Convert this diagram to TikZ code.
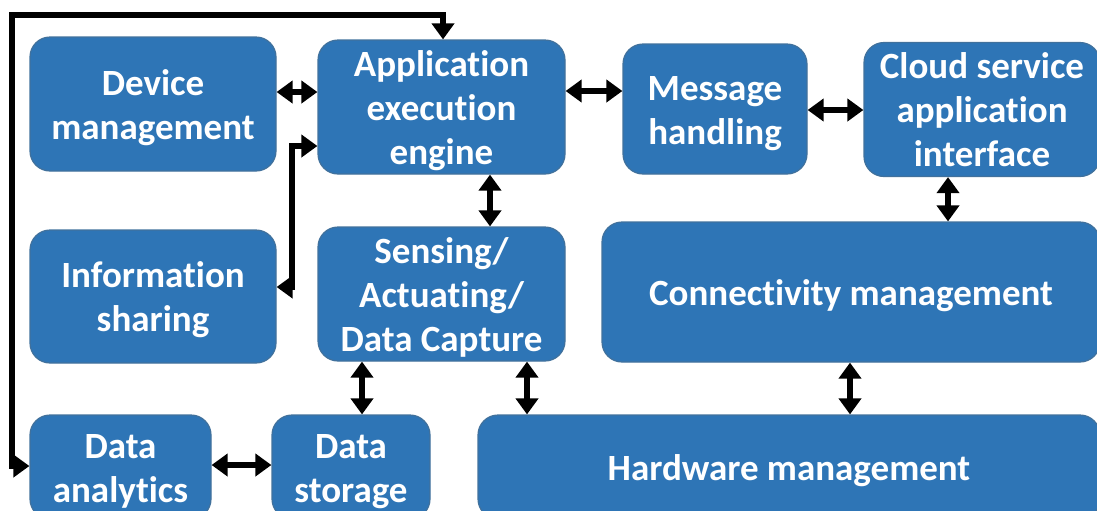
\documentclass[tikz,border=0pt]{standalone}
\usepackage{fontspec}
\setmainfont{Carlito}[Ligatures=NoCommon]
\usetikzlibrary{arrows.meta}

\definecolor{boxblue}{HTML}{2E75B6}
\definecolor{boxline}{HTML}{41719C}

% struts for the first and last line of a box text
\newcommand\topstrut{\rule{0pt}{18pt}}
\newcommand\botstrut{\rule[-5pt]{0pt}{0pt}}

\tikzset{
  block/.style={draw=boxline, line width=0.6pt, fill=boxblue, rounded corners=10pt,
    text=white, font=\bfseries\fontsize{18.5}{22}\selectfont, align=center, inner sep=0pt},
  link/.style={line width=3pt, {Triangle[width=11pt,length=8pt]}-{Triangle[width=11pt,length=8pt]}}
}

\begin{document}
\begin{tikzpicture}[x=0.5pt, y=-0.5pt]
  \useasboundingbox (0,0) rectangle (1097,510);

  \node[block, minimum width=123pt, minimum height=67pt] (dev) at (153,104) {\topstrut Device\\management\botstrut};
  \node[block, minimum width=123.5pt, minimum height=67pt] (app) at (441.5,107) {\topstrut Application\\execution\\engine\botstrut};
  \node[block, minimum width=92pt, minimum height=65pt] (msg) at (715,109) {\topstrut Message\\handling\botstrut};
  \node[block, minimum width=118pt, minimum height=65.5pt] (cloud) at (982,109.5) {\topstrut Cloud service\\application\\interface\botstrut};
  \node[block, minimum width=123pt, minimum height=66.5pt] (info) at (153,296.5) {\topstrut Information\\sharing\botstrut};
  \node[block, minimum width=123.5pt, minimum height=67pt] (sense) at (441.5,294) {\topstrut Sensing/\\Actuating/\\Data Capture\botstrut};
  \node[block, minimum width=249pt, minimum height=70pt] (conn) at (851,292) {\topstrut Connectivity management\botstrut};
  \node[block, minimum width=90.5pt, minimum height=52pt] (ana) at (120.5,467) {\topstrut Data\\analytics\botstrut};
  \node[block, minimum width=79pt, minimum height=52pt] (store) at (351,467) {\topstrut Data\\storage\botstrut};
  \node[block, minimum width=311pt, minimum height=52pt] (hw) at (789,467) {\topstrut Hardware management\botstrut};

  \draw[link] (dev.east |- 0,92) -- (app.west |- 0,92);
  \draw[link] (app.east |- 0,91) -- (msg.west |- 0,91);
  \draw[link] (msg.east |- 0,110) -- (cloud.west |- 0,110);
  \draw[link] (info.east |- 0,287) -- (292,287) -- (292,146) -- (app.west |- 0,146);
  \draw[link] (app.south -| 490,0) -- (sense.north -| 490,0);
  \draw[link] (cloud.south -| 948,0) -- (conn.north -| 948,0);
  \draw[link] (sense.south -| 362,0) -- (store.north -| 362,0);
  \draw[link] (sense.south -| 527,0) -- (hw.north -| 527,0);
  \draw[link] (conn.south -| 850,0) -- (hw.north -| 850,0);
  \draw[link] (ana.east |- 0,465) -- (store.west |- 0,465);
  \draw[link] (ana.west |- 0,466) -- (12,466) -- (12,15) -- (443,15) -- (app.north -| 443,0);
\end{tikzpicture}
\end{document}
